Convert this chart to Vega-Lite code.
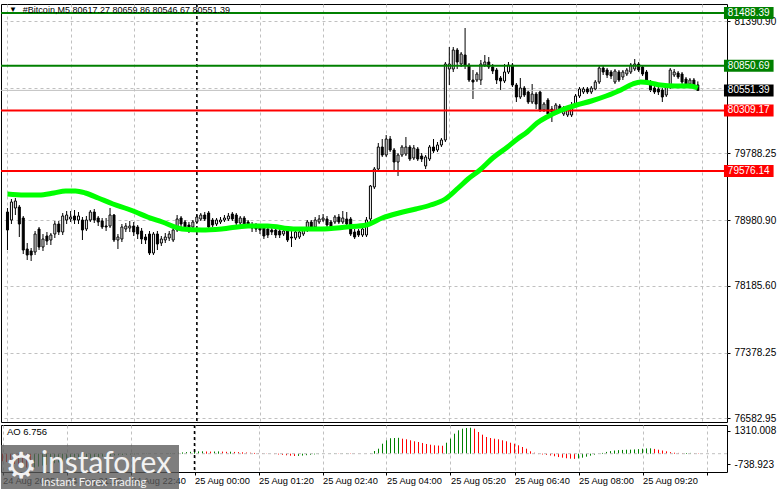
{
"$schema":"https://vega.github.io/schema/vega-lite/v6.json",
"padding":{"left":-4,"top":2,"right":0,"bottom":0},
"background":"white",
"bounds":"flush",
"spacing":3,
"config":{"view":{"stroke":"#000","strokeWidth":1},"axis":{"labelFont":"Liberation Sans","labelFontSize":10,"labelColor":"#000","tickColor":"#000","domain":false,"gridColor":"#c0c0c0","gridDash":[3,3],"gridWidth":1},"text":{"font":"Liberation Sans"}},
"datasets":{
"bars":[
{"i":0,"o":79079.8,"h":79128.2,"l":78620.0,"c":78862.0,"ao":-380,"d":"n"},
{"i":1,"o":78983.0,"h":79237.1,"l":78934.6,"c":79200.8,"ao":-420,"d":"n"},
{"i":2,"o":79128.2,"h":79249.2,"l":79043.5,"c":79212.9,"ao":-460,"d":"n"},
{"i":3,"o":79140.3,"h":79164.5,"l":78777.3,"c":78934.6,"ao":-520,"d":"n"},
{"i":4,"o":79007.2,"h":79031.4,"l":78571.6,"c":78620.0,"ao":-590,"d":"n"},
{"i":5,"o":78632.1,"h":78704.7,"l":78499.0,"c":78559.5,"ao":-650,"d":"n"},
{"i":6,"o":78607.9,"h":78644.2,"l":78486.9,"c":78559.5,"ao":-700,"d":"n"},
{"i":7,"o":78595.8,"h":78849.9,"l":78559.5,"c":78813.6,"ao":-739,"d":"n"},
{"i":8,"o":78874.1,"h":78898.3,"l":78620.0,"c":78656.3,"ao":-700,"d":"u"},
{"i":9,"o":78656.3,"h":78813.6,"l":78607.9,"c":78753.1,"ao":-650,"d":"u"},
{"i":10,"o":78789.4,"h":78837.8,"l":78680.5,"c":78728.9,"ao":-600,"d":"u"},
{"i":11,"o":78741.0,"h":78825.7,"l":78680.5,"c":78801.5,"ao":-560,"d":"u"},
{"i":12,"o":78813.6,"h":78970.9,"l":78765.2,"c":78934.6,"ao":-520,"d":"u"},
{"i":13,"o":78934.6,"h":78970.9,"l":78801.5,"c":78837.8,"ao":-480,"d":"u"},
{"i":14,"o":78837.8,"h":79067.7,"l":78801.5,"c":79031.4,"ao":-440,"d":"u"},
{"i":15,"o":78983.0,"h":79091.9,"l":78934.6,"c":79043.5,"ao":-400,"d":"u"},
{"i":16,"o":78995.1,"h":79091.9,"l":78958.8,"c":79019.3,"ao":-370,"d":"u"},
{"i":17,"o":79031.4,"h":79104.0,"l":78934.6,"c":78983.0,"ao":-340,"d":"u"},
{"i":18,"o":78983.0,"h":79079.8,"l":78934.6,"c":79031.4,"ao":-310,"d":"u"},
{"i":19,"o":78983.0,"h":79019.3,"l":78741.0,"c":78862.0,"ao":-290,"d":"u"},
{"i":20,"o":78874.1,"h":79031.4,"l":78849.9,"c":78983.0,"ao":-270,"d":"u"},
{"i":21,"o":78983.0,"h":79104.0,"l":78958.8,"c":79079.8,"ao":-240,"d":"u"},
{"i":22,"o":79079.8,"h":79116.1,"l":78946.7,"c":78983.0,"ao":-210,"d":"u"},
{"i":23,"o":79007.2,"h":79031.4,"l":78910.4,"c":78958.8,"ao":-190,"d":"u"},
{"i":24,"o":78970.9,"h":79007.2,"l":78874.1,"c":78898.3,"ao":-170,"d":"u"},
{"i":25,"o":78910.4,"h":79007.2,"l":78849.9,"c":78898.3,"ao":-150,"d":"u"},
{"i":26,"o":78910.4,"h":79128.2,"l":78886.2,"c":79043.5,"ao":-130,"d":"u"},
{"i":27,"o":79043.5,"h":79055.6,"l":78716.8,"c":78741.0,"ao":-110,"d":"u"},
{"i":28,"o":78741.0,"h":78813.6,"l":78632.1,"c":78777.3,"ao":-90,"d":"u"},
{"i":29,"o":78753.1,"h":78934.6,"l":78716.8,"c":78898.3,"ao":-75,"d":"u"},
{"i":30,"o":78874.1,"h":78946.7,"l":78837.8,"c":78910.4,"ao":-60,"d":"u"},
{"i":31,"o":78886.2,"h":78970.9,"l":78837.8,"c":78910.4,"ao":-50,"d":"u"},
{"i":32,"o":78910.4,"h":78958.8,"l":78789.4,"c":78837.8,"ao":-40,"d":"u"},
{"i":33,"o":78898.3,"h":78922.5,"l":78753.1,"c":78813.6,"ao":-30,"d":"u"},
{"i":34,"o":78849.9,"h":78886.2,"l":78692.6,"c":78753.1,"ao":-25,"d":"u"},
{"i":35,"o":78777.3,"h":78813.6,"l":78692.6,"c":78741.0,"ao":-20,"d":"u"},
{"i":36,"o":78813.6,"h":78849.9,"l":78559.5,"c":78583.7,"ao":-15,"d":"u"},
{"i":37,"o":78583.7,"h":78837.8,"l":78559.5,"c":78813.6,"ao":-10,"d":"u"},
{"i":38,"o":78813.6,"h":78849.9,"l":78620.0,"c":78692.6,"ao":-5,"d":"u"},
{"i":39,"o":78704.7,"h":78789.4,"l":78668.4,"c":78753.1,"ao":0,"d":"u"},
{"i":40,"o":78741.0,"h":78825.7,"l":78704.7,"c":78777.3,"ao":5,"d":"u"},
{"i":41,"o":78765.2,"h":78849.9,"l":78728.9,"c":78813.6,"ao":10,"d":"u"},
{"i":42,"o":78741.0,"h":78886.2,"l":78716.8,"c":78862.0,"ao":20,"d":"u"},
{"i":43,"o":78862.0,"h":79043.5,"l":78837.8,"c":78995.1,"ao":35,"d":"u"},
{"i":44,"o":79007.2,"h":79031.4,"l":78898.3,"c":78934.6,"ao":50,"d":"u"},
{"i":45,"o":78958.8,"h":78983.0,"l":78862.0,"c":78898.3,"ao":65,"d":"u"},
{"i":46,"o":78922.5,"h":78958.8,"l":78825.7,"c":78862.0,"ao":80,"d":"u"},
{"i":47,"o":78898.3,"h":78983.0,"l":78874.1,"c":78958.8,"ao":95,"d":"u"},
{"i":48,"o":78958.8,"h":79043.5,"l":78934.6,"c":79019.3,"ao":105,"d":"u"},
{"i":49,"o":78995.1,"h":79067.7,"l":78970.9,"c":79043.5,"ao":115,"d":"u"},
{"i":50,"o":79043.5,"h":79079.8,"l":78970.9,"c":78995.1,"ao":120,"d":"u"},
{"i":51,"o":79067.7,"h":79091.9,"l":78862.0,"c":78898.3,"ao":110,"d":"n"},
{"i":52,"o":78983.0,"h":79007.2,"l":78898.3,"c":78922.5,"ao":105,"d":"n"},
{"i":53,"o":78934.6,"h":79007.2,"l":78910.4,"c":78983.0,"ao":110,"d":"u"},
{"i":54,"o":78958.8,"h":79019.3,"l":78934.6,"c":78983.0,"ao":115,"d":"u"},
{"i":55,"o":78983.0,"h":79043.5,"l":78958.8,"c":79007.2,"ao":105,"d":"n"},
{"i":56,"o":78995.1,"h":79067.7,"l":78970.9,"c":79031.4,"ao":95,"d":"n"},
{"i":57,"o":79055.6,"h":79079.8,"l":78970.9,"c":78995.1,"ao":100,"d":"u"},
{"i":58,"o":79043.5,"h":79067.7,"l":78922.5,"c":78946.7,"ao":90,"d":"n"},
{"i":59,"o":78946.7,"h":79031.4,"l":78922.5,"c":79007.2,"ao":80,"d":"n"},
{"i":60,"o":79007.2,"h":79031.4,"l":78886.2,"c":78922.5,"ao":70,"d":"n"},
{"i":61,"o":78958.8,"h":78983.0,"l":78886.2,"c":78922.5,"ao":60,"d":"n"},
{"i":62,"o":78922.5,"h":78958.8,"l":78837.8,"c":78886.2,"ao":50,"d":"n"},
{"i":63,"o":78922.5,"h":78946.7,"l":78837.8,"c":78874.1,"ao":40,"d":"n"},
{"i":64,"o":78886.2,"h":78934.6,"l":78813.6,"c":78862.0,"ao":30,"d":"n"},
{"i":65,"o":78886.2,"h":78922.5,"l":78753.1,"c":78789.4,"ao":20,"d":"n"},
{"i":66,"o":78874.1,"h":78898.3,"l":78765.2,"c":78801.5,"ao":10,"d":"n"},
{"i":67,"o":78862.0,"h":78886.2,"l":78801.5,"c":78837.8,"ao":0,"d":"n"},
{"i":68,"o":78862.0,"h":78886.2,"l":78765.2,"c":78801.5,"ao":-20,"d":"n"},
{"i":69,"o":78849.9,"h":78874.1,"l":78765.2,"c":78801.5,"ao":-40,"d":"n"},
{"i":70,"o":78813.6,"h":78874.1,"l":78789.4,"c":78849.9,"ao":-60,"d":"n"},
{"i":71,"o":78862.0,"h":78886.2,"l":78716.8,"c":78741.0,"ao":-80,"d":"n"},
{"i":72,"o":78777.3,"h":78849.9,"l":78656.3,"c":78765.2,"ao":-100,"d":"n"},
{"i":73,"o":78765.2,"h":78862.0,"l":78741.0,"c":78837.8,"ao":-116,"d":"n"},
{"i":74,"o":78777.3,"h":78862.0,"l":78753.1,"c":78837.8,"ao":-110,"d":"u"},
{"i":75,"o":78813.6,"h":78886.2,"l":78789.4,"c":78862.0,"ao":-95,"d":"u"},
{"i":76,"o":78862.0,"h":78983.0,"l":78837.8,"c":78958.8,"ao":-75,"d":"u"},
{"i":77,"o":78958.8,"h":78983.0,"l":78874.1,"c":78898.3,"ao":-55,"d":"u"},
{"i":78,"o":78898.3,"h":79019.3,"l":78874.1,"c":78983.0,"ao":-35,"d":"u"},
{"i":79,"o":78958.8,"h":79043.5,"l":78934.6,"c":78995.1,"ao":-20,"d":"u"},
{"i":80,"o":78983.0,"h":79055.6,"l":78958.8,"c":79007.2,"ao":-10,"d":"u"},
{"i":81,"o":78995.1,"h":79031.4,"l":78898.3,"c":78922.5,"ao":0,"d":"u"},
{"i":82,"o":78958.8,"h":78983.0,"l":78862.0,"c":78898.3,"ao":10,"d":"u"},
{"i":83,"o":78958.8,"h":79043.5,"l":78934.6,"c":79019.3,"ao":15,"d":"u"},
{"i":84,"o":79019.3,"h":79055.6,"l":78934.6,"c":78958.8,"ao":10,"d":"n"},
{"i":85,"o":78958.8,"h":79091.9,"l":78934.6,"c":79007.2,"ao":15,"d":"u"},
{"i":86,"o":78995.1,"h":79079.8,"l":78910.4,"c":78934.6,"ao":20,"d":"u"},
{"i":87,"o":78995.1,"h":79019.3,"l":78789.4,"c":78813.6,"ao":15,"d":"n"},
{"i":88,"o":78837.8,"h":78874.1,"l":78753.1,"c":78777.3,"ao":10,"d":"n"},
{"i":89,"o":78849.9,"h":78874.1,"l":78777.3,"c":78801.5,"ao":5,"d":"n"},
{"i":90,"o":78801.5,"h":78898.3,"l":78777.3,"c":78874.1,"ao":0,"d":"n"},
{"i":91,"o":78801.5,"h":79019.3,"l":78777.3,"c":78983.0,"ao":-5,"d":"n"},
{"i":92,"o":78995.1,"h":79406.5,"l":78970.9,"c":79394.4,"ao":30,"d":"u"},
{"i":93,"o":79382.3,"h":79624.3,"l":79358.1,"c":79600.1,"ao":136,"d":"u"},
{"i":94,"o":79600.1,"h":79914.7,"l":79575.9,"c":79866.3,"ao":252,"d":"u"},
{"i":95,"o":79866.3,"h":79963.1,"l":79745.3,"c":79769.5,"ao":504,"d":"u"},
{"i":96,"o":79769.5,"h":80011.5,"l":79745.3,"c":79963.1,"ao":675,"d":"u"},
{"i":97,"o":79963.1,"h":79999.4,"l":79805.8,"c":79830.0,"ao":780,"d":"u"},
{"i":98,"o":79830.0,"h":79854.2,"l":79588.0,"c":79684.8,"ao":791,"d":"u"},
{"i":99,"o":79684.8,"h":79793.7,"l":79515.4,"c":79769.5,"ao":800,"d":"u"},
{"i":100,"o":79769.5,"h":79890.5,"l":79745.3,"c":79866.3,"ao":756,"d":"n"},
{"i":101,"o":79781.6,"h":79987.3,"l":79757.4,"c":79866.3,"ao":726,"d":"n"},
{"i":102,"o":79866.3,"h":79890.5,"l":79696.9,"c":79721.1,"ao":675,"d":"n"},
{"i":103,"o":79733.2,"h":79890.5,"l":79709.0,"c":79854.2,"ao":625,"d":"n"},
{"i":104,"o":79842.1,"h":79866.3,"l":79696.9,"c":79721.1,"ao":590,"d":"n"},
{"i":105,"o":79757.4,"h":79793.7,"l":79684.8,"c":79721.1,"ao":540,"d":"n"},
{"i":106,"o":79636.4,"h":79769.5,"l":79600.1,"c":79745.3,"ao":489,"d":"n"},
{"i":107,"o":79721.1,"h":79890.5,"l":79696.9,"c":79866.3,"ao":454,"d":"n"},
{"i":108,"o":79866.3,"h":79963.1,"l":79793.7,"c":79817.9,"ao":423,"d":"n"},
{"i":109,"o":79830.0,"h":79926.8,"l":79805.8,"c":79890.5,"ao":410,"d":"n"},
{"i":110,"o":79890.5,"h":79975.2,"l":79866.3,"c":79951.0,"ao":400,"d":"n"},
{"i":111,"o":79951.0,"h":80894.8,"l":79926.8,"c":80870.6,"ao":554,"d":"u"},
{"i":112,"o":80810.1,"h":81076.3,"l":80616.5,"c":80870.6,"ao":756,"d":"u"},
{"i":113,"o":80810.1,"h":81076.3,"l":80773.8,"c":81040.0,"ao":1008,"d":"u"},
{"i":114,"o":81040.0,"h":81064.2,"l":80810.1,"c":80894.8,"ao":1179,"d":"u"},
{"i":115,"o":80870.6,"h":81015.8,"l":80834.3,"c":80991.6,"ao":1260,"d":"u"},
{"i":116,"o":80979.5,"h":81306.2,"l":80810.1,"c":80858.5,"ao":1295,"d":"u"},
{"i":117,"o":80858.5,"h":80882.7,"l":80652.8,"c":80677.0,"ao":1310,"d":"u"},
{"i":118,"o":80677.0,"h":80798.0,"l":80447.1,"c":80652.8,"ao":1260,"d":"n"},
{"i":119,"o":80677.0,"h":80773.8,"l":80652.8,"c":80749.6,"ao":1094,"d":"n"},
{"i":120,"o":80677.0,"h":80919.0,"l":80616.5,"c":80870.6,"ao":958,"d":"n"},
{"i":121,"o":80858.5,"h":80979.5,"l":80834.3,"c":80894.8,"ao":842,"d":"n"},
{"i":122,"o":80894.8,"h":80955.3,"l":80810.1,"c":80834.3,"ao":791,"d":"n"},
{"i":123,"o":80834.3,"h":80870.6,"l":80749.6,"c":80785.9,"ao":756,"d":"n"},
{"i":124,"o":80798.0,"h":80822.2,"l":80628.6,"c":80677.0,"ao":726,"d":"n"},
{"i":125,"o":80701.2,"h":80725.4,"l":80556.0,"c":80664.9,"ao":675,"d":"n"},
{"i":126,"o":80664.9,"h":80870.6,"l":80640.7,"c":80773.8,"ao":625,"d":"n"},
{"i":127,"o":80773.8,"h":80894.8,"l":80749.6,"c":80858.5,"ao":554,"d":"n"},
{"i":128,"o":80858.5,"h":80882.7,"l":80592.3,"c":80616.5,"ao":504,"d":"n"},
{"i":129,"o":80616.5,"h":80640.7,"l":80410.8,"c":80471.3,"ao":423,"d":"n"},
{"i":130,"o":80471.3,"h":80701.2,"l":80447.1,"c":80580.2,"ao":338,"d":"n"},
{"i":131,"o":80580.2,"h":80604.4,"l":80471.3,"c":80495.5,"ao":252,"d":"n"},
{"i":132,"o":80531.8,"h":80556.0,"l":80386.6,"c":80410.8,"ao":121,"d":"n"},
{"i":133,"o":80410.8,"h":80628.6,"l":80386.6,"c":80507.6,"ao":50,"d":"n"},
{"i":134,"o":80507.6,"h":80531.8,"l":80326.1,"c":80386.6,"ao":-20,"d":"n"},
{"i":135,"o":80531.8,"h":80556.0,"l":80289.8,"c":80314.0,"ao":-40,"d":"n"},
{"i":136,"o":80314.0,"h":80410.8,"l":80289.8,"c":80386.6,"ao":-60,"d":"n"},
{"i":137,"o":80435.0,"h":80459.2,"l":80241.4,"c":80265.6,"ao":-90,"d":"n"},
{"i":138,"o":80326.1,"h":80362.4,"l":80168.8,"c":80289.8,"ao":-130,"d":"n"},
{"i":139,"o":80289.8,"h":80398.7,"l":80265.6,"c":80374.5,"ao":-170,"d":"n"},
{"i":140,"o":80362.4,"h":80386.6,"l":80277.7,"c":80301.9,"ao":-200,"d":"n"},
{"i":141,"o":80265.6,"h":80362.4,"l":80241.4,"c":80326.1,"ao":-230,"d":"n"},
{"i":142,"o":80253.5,"h":80350.3,"l":80229.3,"c":80326.1,"ao":-250,"d":"n"},
{"i":143,"o":80253.5,"h":80410.8,"l":80229.3,"c":80374.5,"ao":-260,"d":"n"},
{"i":144,"o":80374.5,"h":80507.6,"l":80350.3,"c":80483.4,"ao":-240,"d":"u"},
{"i":145,"o":80483.4,"h":80592.3,"l":80459.2,"c":80568.1,"ao":-200,"d":"u"},
{"i":146,"o":80531.8,"h":80592.3,"l":80507.6,"c":80568.1,"ao":-150,"d":"u"},
{"i":147,"o":80568.1,"h":80592.3,"l":80507.6,"c":80531.8,"ao":-100,"d":"u"},
{"i":148,"o":80531.8,"h":80604.4,"l":80507.6,"c":80580.2,"ao":-50,"d":"u"},
{"i":149,"o":80568.1,"h":80677.0,"l":80543.9,"c":80652.8,"ao":-10,"d":"u"},
{"i":150,"o":80652.8,"h":80846.4,"l":80628.6,"c":80822.2,"ao":40,"d":"u"},
{"i":151,"o":80822.2,"h":80846.4,"l":80737.5,"c":80773.8,"ao":90,"d":"u"},
{"i":152,"o":80798.0,"h":80822.2,"l":80701.2,"c":80737.5,"ao":130,"d":"u"},
{"i":153,"o":80773.8,"h":80798.0,"l":80689.1,"c":80725.4,"ao":160,"d":"u"},
{"i":154,"o":80652.8,"h":80810.1,"l":80628.6,"c":80785.9,"ao":180,"d":"u"},
{"i":155,"o":80773.8,"h":80798.0,"l":80652.8,"c":80677.0,"ao":190,"d":"u"},
{"i":156,"o":80713.3,"h":80798.0,"l":80677.0,"c":80773.8,"ao":200,"d":"u"},
{"i":157,"o":80749.6,"h":80822.2,"l":80725.4,"c":80798.0,"ao":205,"d":"u"},
{"i":158,"o":80773.8,"h":80882.7,"l":80749.6,"c":80858.5,"ao":215,"d":"u"},
{"i":159,"o":80810.1,"h":80931.1,"l":80785.9,"c":80870.6,"ao":230,"d":"u"},
{"i":160,"o":80870.6,"h":80894.8,"l":80773.8,"c":80798.0,"ao":250,"d":"u"},
{"i":161,"o":80834.3,"h":80858.5,"l":80725.4,"c":80749.6,"ao":265,"d":"u"},
{"i":162,"o":80773.8,"h":80798.0,"l":80628.6,"c":80652.8,"ao":270,"d":"u"},
{"i":163,"o":80652.8,"h":80677.0,"l":80531.8,"c":80556.0,"ao":240,"d":"n"},
{"i":164,"o":80580.2,"h":80604.4,"l":80507.6,"c":80531.8,"ao":200,"d":"n"},
{"i":165,"o":80568.1,"h":80592.3,"l":80495.5,"c":80531.8,"ao":160,"d":"n"},
{"i":166,"o":80556.0,"h":80580.2,"l":80410.8,"c":80471.3,"ao":120,"d":"n"},
{"i":167,"o":80495.5,"h":80616.5,"l":80471.3,"c":80592.3,"ao":80,"d":"n"},
{"i":168,"o":80592.3,"h":80822.2,"l":80568.1,"c":80798.0,"ao":50,"d":"n"},
{"i":169,"o":80737.5,"h":80810.1,"l":80713.3,"c":80773.8,"ao":40,"d":"n"},
{"i":170,"o":80761.7,"h":80785.9,"l":80689.1,"c":80713.3,"ao":30,"d":"n"},
{"i":171,"o":80749.6,"h":80773.8,"l":80628.6,"c":80652.8,"ao":35,"d":"u"},
{"i":172,"o":80689.1,"h":80713.3,"l":80604.4,"c":80628.6,"ao":40,"d":"u"},
{"i":173,"o":80628.6,"h":80701.2,"l":80604.4,"c":80677.0,"ao":25,"d":"n"},
{"i":174,"o":80677.0,"h":80701.2,"l":80580.2,"c":80616.5,"ao":15,"d":"n"},
{"i":175,"o":80617.27,"h":80659.86,"l":80546.67,"c":80551.39,"ao":6.756,"d":"n"}
],
"ma":[
{"i":0,"v":79297.6},{"i":4.25,"v":79285.5},{"i":8,"v":79285.5},{"i":11.75,"v":79309.7},{"i":14.75,"v":79333.9},{"i":17.25,"v":79333.9},{"i":19.75,"v":79309.7},{"i":23,"v":79249.2},{"i":26.75,"v":79176.6},{"i":30.5,"v":79116.1},{"i":32.5,"v":79079.8},{"i":35.5,"v":79019.3},{"i":39.25,"v":78958.8},{"i":44.25,"v":78874.1},{"i":49.25,"v":78862.0},{"i":54.25,"v":78874.1},{"i":61,"v":78910.4},{"i":66,"v":78910.4},{"i":72.5,"v":78874.1},{"i":79.25,"v":78874.1},{"i":86,"v":78898.3},{"i":91,"v":78922.5},{"i":95,"v":79007.2},{"i":99.25,"v":79067.7},{"i":103.5,"v":79116.1},{"i":107.25,"v":79164.5},{"i":111,"v":79237.1},{"i":114.25,"v":79370.2},{"i":116.75,"v":79479.1},{"i":119.75,"v":79588.0},{"i":123,"v":79733.2},{"i":126.75,"v":79866.3},{"i":129.25,"v":79963.1},{"i":131.75,"v":80047.8},{"i":134.25,"v":80156.7},{"i":136.75,"v":80229.3},{"i":140.5,"v":80314.0},{"i":144.25,"v":80374.5},{"i":148,"v":80422.9},{"i":151.75,"v":80483.4},{"i":155.5,"v":80556.0},{"i":158.5,"v":80628.6},{"i":160.5,"v":80652.8},{"i":163,"v":80640.7},{"i":165.5,"v":80616.5},{"i":169.25,"v":80604.4},{"i":173,"v":80604.4},{"i":175,"v":80580.2}
],
"levels":[{"p":81488.39,"k":"g"},{"p":80850.69,"k":"g"},{"p":80309.17,"k":"r"},{"p":79576.14,"k":"r"}],
"tags":[{"p":81488.39,"k":"g"},{"p":80850.69,"k":"g"},{"p":80551.39,"k":"b"},{"p":80309.17,"k":"r"},{"p":79576.14,"k":"r"}]
},
"vconcat":[
{
"width":726,"height":418,
"layer":[
{"data":{"name":"bars"},"mark":{"type":"rule","color":"#000","strokeWidth":1},
 "encoding":{
  "x":{"field":"i","type":"quantitative","scale":{"domain":[-0.375,181.125],"nice":false,"zero":false},"axis":{"values":[0,8,16,24,32,40,48,56,64,72,80,88,96,104,112,120,128,136,144,152,160,168,176],"labels":false,"ticks":false,"domain":false,"grid":true,"title":null}},
  "y":{"field":"l","type":"quantitative","scale":{"domain":[76538.8,81596.6],"nice":false,"zero":false},"axis":{"orient":"right","values":[81390.90,80981.20,80583.55,80185.90,79788.25,79378.55,78980.90,78583.25,78185.60,77775.90,77378.25,76980.60,76582.95],"labelExpr":"abs(datum.value - 80583.55) < 1 ? '' : format(datum.value, '.2f')","grid":true,"tickSize":3,"labelPadding":4,"labelOverlap":false,"labelFlush":false,"title":null}},
  "y2":{"field":"h"}
 }},
{"data":{"values":[{"k":48}]},"mark":{"type":"rule","color":"#000","strokeDash":[3,3],"strokeWidth":1.5},"encoding":{"x":{"field":"k","type":"quantitative","title":null}}},
{"data":{"values":[{"p":80551.39}]},"mark":{"type":"rule","color":"#c0c0c0","strokeWidth":1},"encoding":{"y":{"field":"p","type":"quantitative","title":null}}},
{"data":{"name":"bars"},"mark":{"type":"bar","size":2,"stroke":"#000","strokeWidth":1},
 "encoding":{"x":{"field":"i","type":"quantitative","title":null},"y":{"field":"o","type":"quantitative","title":null},"y2":{"field":"c"},
  "fill":{"condition":{"test":"datum.c >= datum.o","value":"#ffffff"},"value":"#000000"}}},
{"data":{"name":"levels"},"mark":{"type":"rule","strokeWidth":2},
 "encoding":{"y":{"field":"p","type":"quantitative","title":null},"color":{"condition":{"test":"datum.k == 'g'","value":"#008000"},"value":"#ff0000"}}},
{"data":{"name":"ma"},"mark":{"type":"line","color":"#00ff00","strokeWidth":5,"interpolate":"monotone"},
 "encoding":{"x":{"field":"i","type":"quantitative","title":null},"y":{"field":"v","type":"quantitative","title":null}}},
{"data":{"name":"tags"},"mark":{"type":"rect","yOffset":-6,"y2Offset":6},
 "encoding":{"x":{"datum":181.625},"x2":{"datum":194.2},"y":{"field":"p","type":"quantitative","title":null},"y2":{"field":"p"},
  "fill":{"condition":[{"test":"datum.k == 'g'","value":"#008000"},{"test":"datum.k == 'r'","value":"#ff0000"}],"value":"#000000"}}},
{"data":{"name":"tags"},"mark":{"type":"text","align":"left","baseline":"middle","fontSize":10,"color":"#ffffff","font":"Liberation Sans"},
 "encoding":{"x":{"datum":182.6},"y":{"field":"p","type":"quantitative","title":null},"text":{"field":"p","type":"quantitative","format":".2f"}}},
{"data":{"values":[{"s":"▼"}]},"mark":{"type":"text","align":"left","baseline":"middle","fontSize":8,"color":"#000"},
 "encoding":{"x":{"datum":0.4},"y":{"datum":81524},"text":{"field":"s"}}},
{"data":{"values":[{"s":"#Bitcoin,M5  80617.27 80659.86 80546.67 80551.39"}]},"mark":{"type":"text","align":"left","baseline":"middle","fontSize":9,"color":"#000"},
 "encoding":{"x":{"datum":3.9},"y":{"datum":81524},"text":{"field":"s"}}}
]
},
{
"width":726,"height":47,
"layer":[
{"data":{"name":"bars"},"mark":{"type":"rule","strokeWidth":1},
 "encoding":{
  "x":{"field":"i","type":"quantitative","scale":{"domain":[-0.375,181.125],"nice":false,"zero":false},"axis":{"values":[0,8,16,24,32,40,48,56,64,72,80,88,96,104,112,120,128,136,144,152,160,168,176],"labelExpr":"(datum.value % 16 == 0 && datum.value < 170) ? ['24 Aug 2025','24 Aug 21:20','24 Aug 22:40','25 Aug 00:00','25 Aug 01:20','25 Aug 02:40','25 Aug 04:00','25 Aug 05:20','25 Aug 06:40','25 Aug 08:00','25 Aug 09:20'][datum.value/16] : ''","labelAlign":"left","labelBaseline":"top","labelFlush":false,"labelOverlap":false,"labelFontSize":9.3,"tickSize":3,"labelPadding":1,"grid":true,"title":null}},
  "y":{"field":"ao","type":"quantitative","scale":{"domain":[-922,1446],"nice":false,"zero":false},"axis":{"orient":"right","values":[1144,0,-519],"labelExpr":"datum.value > 0 ? '1310.008' : (datum.value < 0 ? '-738.923' : '0.00')","grid":false,"tickSize":3,"labelPadding":4,"labelOverlap":false,"labelFlush":false,"title":null}},
  "y2":{"datum":0},
  "color":{"condition":{"test":"datum.d == 'u'","value":"#008000"},"value":"#ff0000"}
 }},
{"data":{"values":[{"z":0}]},"mark":{"type":"rule","color":"#c0c0c0","strokeDash":[3,3],"strokeWidth":1},"encoding":{"y":{"field":"z","type":"quantitative","title":null}}},
{"data":{"values":[{"k":48}]},"mark":{"type":"rule","color":"#000","strokeDash":[3,3],"strokeWidth":1.5},"encoding":{"x":{"field":"k","type":"quantitative","title":null}}},
{"data":{"values":[{"s":"AO 6.756"}]},"mark":{"type":"text","align":"left","baseline":"middle","fontSize":9.5,"color":"#000"},
 "encoding":{"x":{"datum":1.1},"y":{"datum":1094},"text":{"field":"s"}}},
{"data":{"values":[{}]},"mark":{"type":"rect","fill":"#5a5a5a","opacity":0.78},
 "encoding":{"x":{"datum":-0.375},"x2":{"datum":44.125},"y":{"datum":438},"y2":{"datum":-1850}}},
{"data":{"values":[{"s":"⚙"}]},"mark":{"type":"text","align":"left","baseline":"middle","fontSize":36,"color":"#f2f2f2","font":"DejaVu Sans"},
 "encoding":{"x":{"datum":0.6},"y":{"datum":-690},"text":{"field":"s"}}},
{"data":{"values":[{"s":"instaforex"}]},"mark":{"type":"text","align":"left","baseline":"middle","fontSize":30,"color":"#f2f2f2","font":"Lato"},
 "encoding":{"x":{"datum":9.6},"y":{"datum":-540},"text":{"field":"s"}}},
{"data":{"values":[{"s":"Instant Forex Trading"}]},"mark":{"type":"text","align":"left","baseline":"middle","fontSize":11.5,"color":"#f2f2f2","font":"Lato"},
 "encoding":{"x":{"datum":9.6},"y":{"datum":-1500},"text":{"field":"s"}}}
]
}
]
}
